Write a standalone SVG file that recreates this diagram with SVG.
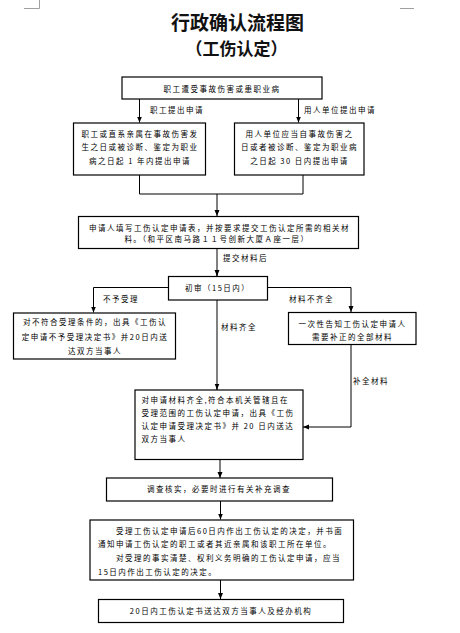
<svg xmlns="http://www.w3.org/2000/svg" width="460" height="633" viewBox="0 0 460 633">
<defs>
<marker id="ah" markerWidth="6" markerHeight="6" refX="6" refY="3" orient="auto" markerUnits="userSpaceOnUse">
<path d="M0,0.5 L6,3 L0,5.5 z" fill="#000"/>
</marker>
<style>
.box{fill:#fff;stroke:#000;stroke-width:1.2}
.t{font-family:"Noto Sans CJK SC","Noto Sans",sans-serif;font-size:7.5px;letter-spacing:1.5px;fill:#000}
.c{text-anchor:middle}
.ln{fill:none;stroke:#000;stroke-width:1}
.gl{fill:none;stroke:#808080;stroke-width:2}
.title{font-family:"Noto Sans CJK SC",sans-serif;font-weight:bold;fill:#111;text-anchor:middle}
.mark{stroke:#a0a0a0;stroke-width:1;fill:none}
</style>
</defs>
<rect width="460" height="633" fill="#fff"/>
<path class="mark" d="M24,8.5 H39.5 V0"/>
<path class="mark" d="M400,8.5 H414"/>
<text class="title" x="237.5" y="30" font-size="19">行政确认流程图</text>
<text class="title" x="236.5" y="55" font-size="17">（工伤认定）</text>

<g id="connectors">
<path class="ln" d="M139.5,99 V122.5" marker-end="url(#ah)"/>
<path class="ln" d="M298.5,99 V122.5" marker-end="url(#ah)"/>
<path class="ln" d="M139.5,175 V194 H303 V175"/>
<path class="ln" d="M217,194 V216" marker-end="url(#ah)"/>
<path class="gl" d="M217,248.5 V276"/>
<path class="ln" d="M217,270 V276" marker-end="url(#ah)"/>
<path class="ln" d="M168,287.5 H93.5 V312.5" marker-end="url(#ah)"/>
<path class="ln" d="M267,287.5 H351 V312" marker-end="url(#ah)"/>
<path class="gl" d="M217,300 V390"/>
<path class="ln" d="M217,384 V389.5" marker-end="url(#ah)"/>
<path class="ln" d="M351,344 V427 H303" marker-end="url(#ah)"/>
<path class="ln" d="M220,459.5 V478" marker-end="url(#ah)"/>
<path class="ln" d="M220.5,501 V519.5" marker-end="url(#ah)"/>
<path class="ln" d="M220.5,580 V599" marker-end="url(#ah)"/>
<text class="t" x="150" y="113">职工提出申请</text>
<text class="t" x="304" y="113">用人单位提出申请</text>
<text class="t" x="223" y="261">提交材料后</text>
<text class="t" x="103" y="302">不予受理</text>
<text class="t" x="221" y="329.5">材料齐全</text>
<text class="t" x="289" y="302">材料不齐全</text>
<text class="t" x="353" y="383.5">补全材料</text>
</g>

<g id="n1">
<rect class="box" x="122" y="77" width="200" height="22"/>
<text class="t c" x="222" y="91.5">职工遭受事故伤害或患职业病</text>
</g>
<g id="n2">
<rect class="box" x="73.5" y="123" width="132" height="52"/>
<text class="t c" x="140" y="137">职工或直系亲属在事故伤害发</text>
<text class="t c" x="140" y="149.5">生之日或被诊断、鉴定为职业</text>
<text class="t c" x="140" y="163.5">病之日起 1 年内提出申请</text>
</g>
<g id="n3">
<rect class="box" x="234.5" y="123" width="129.5" height="52"/>
<text class="t c" x="299.5" y="137">用人单位应当自事故伤害之</text>
<text class="t c" x="299.5" y="149.5">日或者被诊断、鉴定为职业病</text>
<text class="t c" x="299.5" y="163.5">之日起 30 日内提出申请</text>
</g>
<g id="n4">
<rect class="box" x="78.5" y="216.5" width="280" height="32"/>
<text class="t c" x="219.5" y="230.5">申请人填写工伤认定申请表，并按要求提交工伤认定所需的相关材</text>
<text class="t c" x="217" y="242">料。（和平区南马路１１号创新大厦Ａ座一层）</text>
</g>
<g id="n5">
<rect class="box" x="168.5" y="276.5" width="99" height="23.5"/>
<text class="t" x="185" y="290.5">初审（15日内）</text>
</g>
<g id="n6">
<rect class="box" x="13.5" y="313" width="162" height="46"/>
<text class="t c" x="95" y="325">对不符合受理条件的，出具《工伤认</text>
<text class="t c" x="95" y="340">定申请不予受理决定书》并20日内送</text>
<text class="t c" x="95" y="354">达双方当事人</text>
</g>
<g id="n7">
<rect class="box" x="288.5" y="312.5" width="127.5" height="32"/>
<text class="t c" x="352.5" y="327">一次性告知工伤认定申请人</text>
<text class="t c" x="352.5" y="340">需要补正的全部材料</text>
</g>
<g id="n8">
<rect class="box" x="135" y="390" width="168" height="69.5"/>
<text class="t" x="141.5" y="403">对申请材料齐全,符合本机关管辖且在</text>
<text class="t" x="141.5" y="416">受理范围的工伤认定申请，出具《工伤</text>
<text class="t" x="141.5" y="429">认定申请受理决定书》并 20 日内送达</text>
<text class="t" x="141.5" y="442">双方当事人</text>
</g>
<g id="n9">
<rect class="box" x="106.5" y="478" width="226" height="23"/>
<text class="t c" x="219" y="491.5">调查核实，必要时进行有关补充调查</text>
</g>
<g id="n10">
<rect class="box" x="90" y="520" width="263.5" height="60"/>
<text class="t" x="116" y="534">受理工伤认定申请后60日内作出工伤认定的决定，并书面</text>
<text class="t" x="98" y="547">通知申请工伤认定的职工或者其近亲属和该职工所在单位。</text>
<text class="t" x="116" y="561">对受理的事实清楚、权利义务明确的工伤认定申请，应当</text>
<text class="t" x="98" y="574.5">15日内作出工伤认定的决定。</text>
</g>
<g id="n11">
<rect class="box" x="98.5" y="599.5" width="245" height="23"/>
<text class="t c" x="221" y="613.5">20日内工伤认定书送达双方当事人及经办机构</text>
</g>
</svg>
